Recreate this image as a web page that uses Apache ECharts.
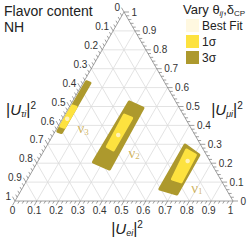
<!DOCTYPE html>
<html><head><meta charset="utf-8">
<script src="https://cdn.jsdelivr.net/npm/echarts@6/dist/echarts.min.js"></script>
<style>html,body{margin:0;padding:0;background:#fff}#c{width:249px;height:240px}</style>
</head><body><div id="c"></div>
<script>
// Ternary points are [|U_ei|^2, |U_mu i|^2]; |U_tau i|^2 = 1 - sum
const tickValues = [0, 0.1, 0.2, 0.3, 0.4, 0.5, 0.6, 0.7, 0.8, 0.9, 1];
const tickLabels = ['0', '0.1', '0.2', '0.3', '0.4', '0.5', '0.6', '0.7', '0.8', '0.9', '1'];

const nu1Sigma3 = [[0.632, 0.296], [0.722, 0.243], [0.724, 0.037], [0.633, 0.063]];
const nu1Sigma1 = [[0.652, 0.270], [0.706, 0.243], [0.712, 0.101], [0.664, 0.116]];
const nu1Best = [0.686, 0.212];

const nu2Sigma3 = [[0.262, 0.524], [0.341, 0.492], [0.349, 0.169], [0.257, 0.206]];
const nu2Sigma1 = [[0.274, 0.455], [0.316, 0.438], [0.316, 0.270], [0.280, 0.287]];
const nu2Best = [0.299, 0.349];

const nu3Sigma3 = [[0.012, 0.631], [0.032, 0.624], [0.032, 0.362], [0.012, 0.369]];
const nu3Sigma1 = [[0.012, 0.503], [0.032, 0.497], [0.032, 0.390], [0.012, 0.396]];
const nu3Best = [0.022, 0.435];

const nuNames = ['1', '2', '3'];
const nuLabelPos = [[0.800, 0.069], [0.419, 0.254], [0.119, 0.386]];

const legendNames = ['Best Fit', '1σ', '3σ'];
const C3 = '#ad992d', C1 = '#fde23f', CB = '#fff6d8', CL = '#c7a43a';

function xy(p) { return [p[0] + p[1] / 2, p[1]]; }

// grid line segments (three families)
const gridSegs = [];
tickValues.slice(1, -1).forEach(k => {
  gridSegs.push([k, 0, k + (1 - k) / 2, 1 - k]);          // constant e
  gridSegs.push([k / 2, k, 1 - k / 2, k]);                 // constant mu
  gridSegs.push([1 - k, 0, (1 - k) / 2, 1 - k]);           // constant tau
});
const edgeSegs = [[0, 0, 1, 0], [1, 0, 0.5, 1], [0.5, 1, 0, 0]];

// ticks: [axis, value, major, labelIndex]
const tickData = [];
for (let a = 0; a < 3; a++) {
  for (let i = 0; i <= 50; i++) {
    const major = i % 5 === 0;
    tickData.push([a, i / 50, major ? 1 : 0, major ? i / 5 : -1]);
  }
}

function segRender(color, w) {
  return function (params, api) {
    const p1 = api.coord([api.value(0), api.value(1)]);
    const p2 = api.coord([api.value(2), api.value(3)]);
    return { type: 'line', shape: { x1: p1[0], y1: p1[1], x2: p2[0], y2: p2[1] },
      style: { stroke: color, lineWidth: w } };
  };
}

function tickRender(params, api) {
  const a = api.value(0), v = api.value(1), major = api.value(2), li = api.value(3);
  let base, dir;
  if (a === 0) { base = [v, 0]; dir = [-0.5, 0.866]; }
  else if (a === 1) { base = [1 - v / 2, v]; dir = [1, 0]; }
  else { base = [(1 - v) / 2, 1 - v]; dir = [-0.5, -0.866]; }
  const p = api.coord(base);
  const len = major ? 5 : 3;
  const q = [p[0] + dir[0] * len, p[1] + dir[1] * len];
  const children = [{ type: 'line', shape: { x1: p[0], y1: p[1], x2: q[0], y2: q[1] },
    style: { stroke: '#777', lineWidth: 0.7 } }];
  if (major) {
    let tx = q[0], ty = q[1], align, va;
    if (a === 0) { ty += 0.5; align = 'center'; va = 'top'; }
    else if (a === 1) { tx += 2.5; align = 'left'; va = 'middle'; }
    else { tx -= 1.5; align = 'right'; va = 'middle'; }
    children.push({ type: 'text', style: { text: tickLabels[li], x: tx, y: ty, align: align, verticalAlign: va,
      fontSize: 10, fontFamily: 'Liberation Sans, Arial, sans-serif', fill: '#333' } });
  }
  return { type: 'group', children };
}

function regionSeries(name, regions, color) {
  return {
    type: 'custom', name: name, coordinateSystem: 'cartesian2d', itemStyle: { color: color },
    data: regions.map((r, i) => xy(r[0])),
    renderItem: function (params, api) {
      const pts = regions[params.dataIndex].map(p => api.coord(xy(p)));
      return { type: 'polygon', shape: { points: pts },
        style: { fill: color, stroke: color, lineWidth: 3, lineJoin: 'round' } };
    }
  };
}

const sansF = 'Liberation Sans, Arial, sans-serif';
function uTitle(sub) {
  return {
    text: '{b||}{u|U}{s|' + sub + '}{b||}{p|2}',
    rich: {
      b: { fontSize: 16, fontFamily: sansF, fill: '#222', lineHeight: 18 },
      u: { fontSize: 15, fontStyle: 'italic', fontFamily: sansF, fill: '#222', lineHeight: 18 },
      s: { fontSize: 9, fontStyle: 'italic', fontFamily: sansF, fill: '#222', verticalAlign: 'bottom', lineHeight: 10 },
      p: { fontSize: 10, fontFamily: sansF, fill: '#222', verticalAlign: 'top', lineHeight: 10 }
    }
  };
}

const chart = echarts.init(document.getElementById('c'), null, { renderer: 'svg' });
chart.setOption({
  animation: false,
  backgroundColor: '#fff',
  grid: { left: 15, top: 12, width: 218, height: 189 },
  xAxis: { type: 'value', min: 0, max: 1, show: false },
  yAxis: { type: 'value', min: 0, max: 1, show: false },
  legend: {
    data: legendNames, orient: 'vertical', left: 186, top: 19, padding: 0,
    icon: 'rect', itemWidth: 13, itemHeight: 13, itemGap: 3, itemStyle: { borderWidth: 0 },
    textStyle: { fontSize: 12, fontFamily: sansF, color: '#222', padding: [0, 0, 0, -2] },
    selectedMode: false
  },
  graphic: [
    { type: 'text', left: 4, top: 3, style: { text: 'Flavor content\nNH', fontSize: 14, lineHeight: 16, fontFamily: sansF, fill: '#222' } },
    { type: 'text', left: 183, top: 3, style: {
      text: '{a|Vary θ}{s|ij}{a|,δ}{c|CP}',
      rich: {
        a: { fontSize: 13, fontFamily: sansF, fill: '#222', lineHeight: 15 },
        s: { fontSize: 8, fontStyle: 'italic', fontFamily: sansF, fill: '#222', verticalAlign: 'bottom', lineHeight: 9 },
        c: { fontSize: 8, fontFamily: sansF, fill: '#222', verticalAlign: 'bottom', lineHeight: 9 }
      } } },
    { type: 'text', x: 21, y: 109, style: Object.assign(uTitle('τi'), { align: 'center', verticalAlign: 'middle' }) },
    { type: 'text', x: 227, y: 109, style: Object.assign(uTitle('μi'), { align: 'center', verticalAlign: 'middle' }) },
    { type: 'text', x: 127, y: 228, style: Object.assign(uTitle('ei'), { align: 'center', verticalAlign: 'middle' }) }
  ],
  series: [
    { type: 'custom', name: 'grid', coordinateSystem: 'cartesian2d', silent: true, data: gridSegs, renderItem: segRender('#dcdcdc', 0.8) },
    { type: 'custom', name: 'edges', coordinateSystem: 'cartesian2d', silent: true, data: edgeSegs, renderItem: segRender('#8c8c8c', 0.8) },
    { type: 'custom', name: 'ticks', coordinateSystem: 'cartesian2d', silent: true, data: tickData, renderItem: tickRender },
    regionSeries('3σ', [nu1Sigma3, nu2Sigma3, nu3Sigma3], C3),
    regionSeries('1σ', [nu1Sigma1, nu2Sigma1, nu3Sigma1], C1),
    { type: 'scatter', name: 'Best Fit', symbol: 'circle', symbolSize: 4.5, itemStyle: { color: CB },
      data: [nu1Best, nu2Best, nu3Best].map(xy) },
    { type: 'scatter', name: 'nu', symbolSize: 0, silent: true,
      data: nuLabelPos.map((p, i) => ({ value: xy(p), sub: nuNames[i] })),
      label: { show: true, position: 'inside',
        formatter: p => '{a|ν}{b|' + nuNames[p.dataIndex] + '}',
        rich: {
          a: { fontSize: 15, fontFamily: 'Liberation Serif, serif', color: CL, lineHeight: 16 },
          b: { fontSize: 9, fontFamily: 'Liberation Serif, serif', color: CL, verticalAlign: 'bottom', lineHeight: 9 }
        } } }
  ]
});
</script></body></html>
